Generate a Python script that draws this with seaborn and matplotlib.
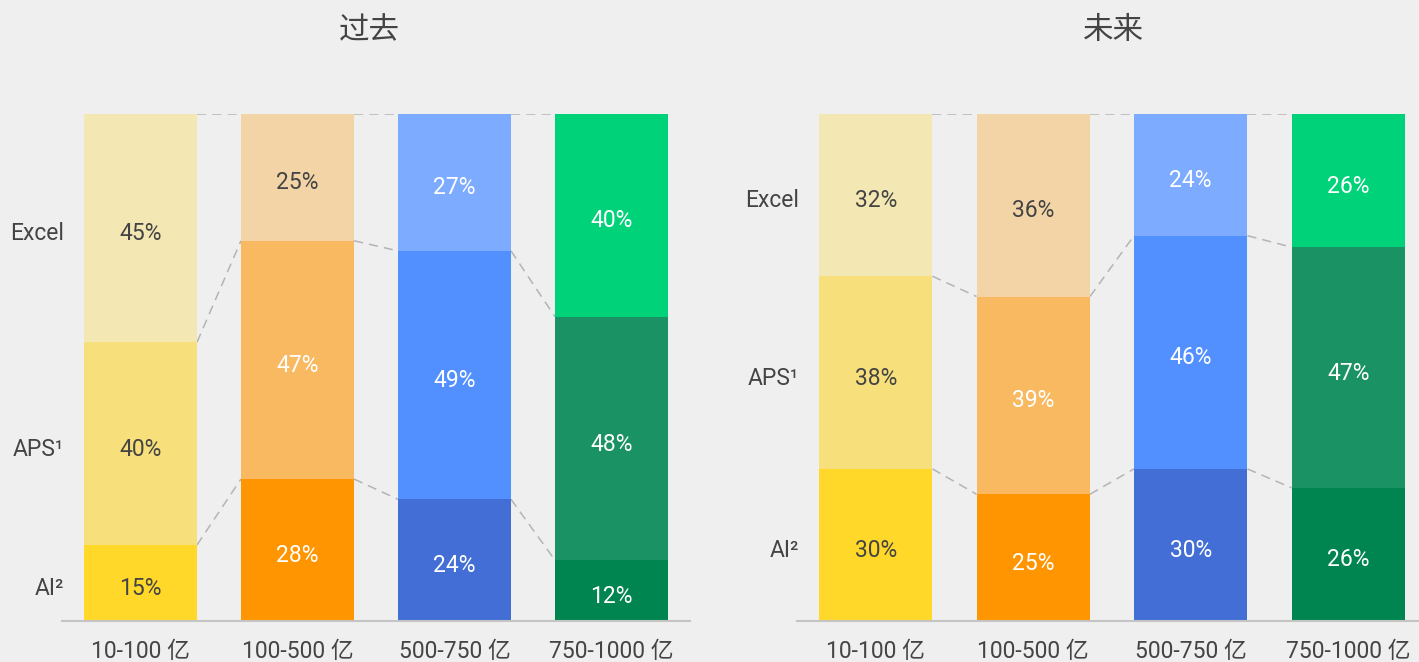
import numpy as np
import matplotlib
matplotlib.use('Agg')
import matplotlib.pyplot as plt
import seaborn as sns

# 数据
cats = ['10-100 亿', '100-500 亿', '500-750 亿', '750-1000 亿']
layer_names = ['AI²', 'APS¹', 'Excel']  # 自下而上

past_ai = [15, 28, 24, 12]
past_aps = [40, 47, 49, 48]
past_excel = [45, 25, 27, 40]

future_ai = [30, 25, 30, 26]
future_aps = [38, 39, 46, 47]
future_excel = [32, 36, 24, 26]

# 每根柱子一个色系，自下而上三层
colors_ai = ['#FFD829', '#FF9500', '#426ED6', '#008551']
colors_aps = ['#F7E07B', '#F8B961', '#5290FF', '#1A9263']
colors_excel = ['#F3E7B4', '#F3D4A6', '#7CABFF', '#00D27A']
# 浅色块用深色文字
dark_text = {'#FFD829', '#F7E07B', '#F3E7B4', '#F3D4A6'}

BG = '#EFEFEF'
TXT = '#444444'
sns.set_style('white')
plt.rcParams['font.family'] = ['Roboto', 'Noto Sans CJK SC', 'DejaVu Sans']
plt.rcParams['figure.facecolor'] = BG
plt.rcParams['axes.facecolor'] = BG

BAR_W = 0.72


def draw_panel(ax, ai, aps, excel, title, title_x):
    vals = np.array([ai, aps, excel], dtype=float)
    shares = vals / vals.sum(axis=0) * 100
    cum = shares.cumsum(axis=0)
    palettes = [colors_ai, colors_aps, colors_excel]

    # 叠加法画堆叠柱：先画总高，再依次覆盖下层
    for k in [2, 1, 0]:
        sns.barplot(x=cats, y=cum[k], hue=cats, palette=palettes[k],
                    saturation=1, width=BAR_W, errorbar=None,
                    legend=False, ax=ax, linewidth=0)

    # 百分比标签
    for k in range(3):
        for i in range(len(cats)):
            c = palettes[k][i]
            ax.text(i, cum[k, i] - shares[k, i] / 2 - 0.6, f'{vals[k, i]:.0f}%',
                    ha='center', va='center_baseline', fontsize=16.5,
                    color=TXT if c in dark_text else 'white')

    # 虚线连接
    for k in range(3):
        for i in range(len(cats) - 1):
            ax.plot([i + BAR_W / 2, i + 1 - BAR_W / 2], [cum[k, i], cum[k, i + 1]],
                    color='#B4B4B4', lw=1.1, ls=(0, (6, 4)), zorder=0)

    # 左侧图例文字
    for k in range(3):
        ax.text(-0.49, cum[k, 0] - shares[k, 0] / 2 - 0.6, layer_names[k],
                ha='right', va='center_baseline', fontsize=16.5, color=TXT,
                clip_on=False)

    ax.text(title_x, 1.165, title, transform=ax.transAxes, ha='center',
            va='center', fontsize=22, color=TXT)

    ax.set_xlim(-0.5, 3.5)
    ax.set_ylim(0, 100)
    ax.set_yticks([])
    ax.set_xlabel('')
    ax.set_ylabel('')
    ax.tick_params(axis='x', length=0, pad=14, labelsize=16.5, labelcolor=TXT)
    for s in ['top', 'right', 'left']:
        ax.spines[s].set_visible(False)
    ax.spines['bottom'].set_color('#C4C4C4')
    ax.spines['bottom'].set_linewidth(1.5)


fig = plt.figure(figsize=(14.19, 6.62), dpi=100)
ax1 = fig.add_axes([62 / 1419, 41 / 662, 628 / 1419, 507 / 662])
ax2 = fig.add_axes([797 / 1419, 41 / 662, 630 / 1419, 507 / 662])

draw_panel(ax1, past_ai, past_aps, past_excel, '过去', 0.49)
draw_panel(ax2, future_ai, future_aps, future_excel, '未来', 0.503)

fig.savefig('out.png', dpi=100, facecolor=BG)
